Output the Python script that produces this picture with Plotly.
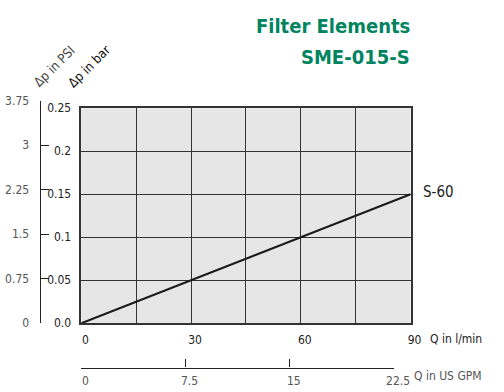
import plotly.graph_objects as go

# ---- data ----
flow_lpm = [0, 90]
dp_bar = [0, 0.15]
series_name = "S-60"

x_ticks = [0, 15, 30, 45, 60, 75, 90]
x_ticktext = ["0", "", "30", "", "60", "", "90"]
y_ticks = [0, 0.05, 0.1, 0.15, 0.2, 0.25]
y_ticktext = ["0.0", "0.05", "0.1", "0.15", "0.2", "0.25"]
psi_ticks = [0, 0.75, 1.5, 2.25, 3, 3.75]
psi_ticktext = ["0", "0.75", "1.5", "2.25", "3", "3.75"]
gpm_ticks = [0, 7.5, 15, 22.5]
gpm_ticktext = ["0", "7.5", "15", "22.5"]

title_lines = ["Filter Elements", "SME-015-S"]

W, H = 504, 392
def px(x):
    return x / W
def py(y):
    return 1 - y / H

FONT = "DejaVu Sans Condensed, sans-serif"
GREEN = "#00845f"

fig = go.Figure()
# gray plot background (only behind the main l/min x bar grid)
fig.add_shape(type="rect", xref="x domain", yref="y domain", x0=0, x1=1, y0=0, y1=1,
              fillcolor="#e6e6e6", line=dict(width=0), layer="below")
fig.add_trace(go.Scatter(x=flow_lpm, y=dp_bar, mode="lines",
                         line=dict(color="#1a1a1a", width=2),
                         showlegend=False, hoverinfo="skip"))
# invisible trace so the secondary (PSI / GPM) axes get drawn
fig.add_trace(go.Scatter(x=[gpm_ticks[0]], y=[psi_ticks[0]], xaxis="x2", yaxis="y2",
                         mode="markers", marker=dict(opacity=0),
                         showlegend=False, hoverinfo="skip"))

fig.update_layout(
    width=W, height=H,
    margin=dict(l=0, r=0, t=0, b=0),
    paper_bgcolor="white",
    plot_bgcolor="rgba(0,0,0,0)",
    font=dict(family=FONT, size=12, color="#222"),
    xaxis=dict(domain=[px(84), px(424)], range=[0, 90],
               tickvals=x_ticks, ticktext=x_ticktext,
               showgrid=True, gridcolor="#333", gridwidth=1.3,
               zeroline=False, showline=True, mirror=True,
               linecolor="#333", linewidth=1.5, ticks="",
               ticklabelstandoff=5, ticklabelshift=4,
               tickfont=dict(size=12, color="#222"), fixedrange=True),
    yaxis=dict(domain=[py(328), py(105)], range=[0, 0.25],
               tickvals=y_ticks, ticktext=y_ticktext,
               showgrid=True, gridcolor="#333", gridwidth=1.3,
               zeroline=False, showline=True, mirror=True,
               linecolor="#333", linewidth=1.5, ticks="",
               ticklabelstandoff=6,
               tickfont=dict(size=12, color="#222"), fixedrange=True),
    yaxis2=dict(domain=[py(328), py(97)], range=[0, 3.75],
                anchor="free", position=px(41), side="left",
                tickvals=psi_ticks, ticktext=psi_ticktext,
                showgrid=False, zeroline=False, showline=True,
                linecolor="#222", linewidth=1.3,
                ticks="inside", ticklen=8, tickcolor="#222", tickwidth=1.3,
                ticklabelstandoff=8,
                tickfont=dict(size=12, color="#555"), fixedrange=True),
    xaxis2=dict(domain=[px(84), px(407)], range=[0, 22.5],
                anchor="free", position=py(374), side="bottom",
                tickvals=gpm_ticks, ticktext=gpm_ticktext,
                showgrid=False, zeroline=False, showline=True,
                linecolor="#222", linewidth=1.3,
                ticks="inside", ticklen=8, tickcolor="#222", tickwidth=1.3,
                ticklabelstandoff=2, ticklabelshift=4,
                tickfont=dict(size=12, color="#555"), fixedrange=True),
)

P = dict(xref="paper", yref="paper", showarrow=False)
ann = []
ann.append(dict(text="<b>" + title_lines[0] + "</b>", x=px(426), y=py(20),
                xanchor="right", yanchor="middle",
                font=dict(size=20, color=GREEN, family=FONT), **P))
ann.append(dict(text="<b>" + title_lines[1] + "</b>", x=px(426), y=py(52),
                xanchor="right", yanchor="middle",
                font=dict(size=20, color=GREEN, family=FONT), **P))
ann.append(dict(text=series_name, x=flow_lpm[-1], y=dp_bar[-1], xref="x", yref="y",
                xanchor="left", yanchor="middle", xshift=10, yshift=2, showarrow=False,
                font=dict(size=15, color="#222", family=FONT)))
ann.append(dict(text="Q in l/min", x=px(500), y=py(344), xanchor="right",
                yanchor="middle", font=dict(size=12, color="#222", family=FONT), **P))
ann.append(dict(text="Q in US GPM", x=px(500), y=py(383), xanchor="right",
                yanchor="middle", font=dict(size=12, color="#555", family=FONT), **P))
ann.append(dict(text="Δp in PSI", x=px(56), y=py(62), xanchor="center",
                yanchor="middle", textangle=-45,
                font=dict(size=13, color="#444", family=FONT), **P))
ann.append(dict(text="Δp in bar", x=px(92), y=py(62), xanchor="center",
                yanchor="middle", textangle=-45,
                font=dict(size=13, color="#111", family=FONT), **P))
fig.update_layout(annotations=ann)

css_fix = ("document.documentElement.style.margin='0px';"
           "document.documentElement.style.overflow='hidden';"
           "document.body.style.margin='0px';"
           "document.body.style.padding='0px';"
           "document.body.style.overflow='hidden';")
fig.write_html("out.html", config={"displayModeBar": False}, post_script=css_fix)
